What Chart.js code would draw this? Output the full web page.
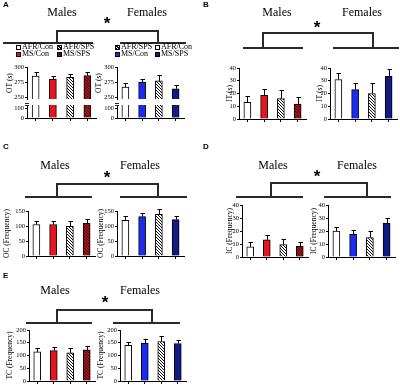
<!DOCTYPE html>
<html>
<head>
<meta charset="utf-8">
<script src="https://cdn.jsdelivr.net/npm/chart.js@4.4.1/dist/chart.umd.min.js"></script>
<style>
body { margin: 0; background: #fff; }
#fig { position: relative; width: 400px; height: 385px; overflow: hidden; font-family: "Liberation Serif", serif; color: #000; }
#fig canvas { position: absolute; }
.t { position: absolute; white-space: nowrap; line-height: 1; }
.grp { font-size: 12px; transform: translateX(-50%); }
.star { font-family: "Liberation Sans", sans-serif; font-weight: bold; font-size: 17px; transform: translateX(-50%); }
.letter { font-family: "Liberation Sans", Arial, sans-serif; font-weight: bold; font-size: 8px; }
.ln { position: absolute; background: #2a2a2a; }
.lg { position: absolute; font-size: 8px; line-height: 1; white-space: nowrap; }
.sw { position: absolute; width: 3px; height: 3px; border: 1px solid #000; }
</style>
</head>
<body>
<div id="fig"></div>
<script>
// bar order in every panel
const groups = ['AFR/Con', 'MS/Con', 'AFR/SPS', 'MS/SPS'];

// A: OT (s)
const otMales = [285, 280, 283, 286];
const otMalesErr = [6, 5, 6, 6];
const otFemales = [267, 275, 277, 264];
const otFemalesErr = [6, 5, 10, 6];
const otTicksTop = [250, 275, 300];
const otTicksBottom = [0, 100];

// B: IT (s)
const itMales = [13, 18.5, 16, 11.7];
const itMalesErr = [5, 5.2, 6.5, 5.7];
const itFemales = [31, 23, 20, 33.5];
const itFemalesErr = [5.4, 5, 8.3, 5.5];
const itTicks = [0, 10, 20, 30, 40];

// C: OC (Frequency)
const ocMales = [105, 105, 99, 110];
const ocMalesErr = [13, 11, 16, 14];
const ocFemales = [119, 131, 139, 121];
const ocFemalesErr = [13, 13, 19, 12];
const ocTicks = [0, 50, 100, 150];

// D: IC (Frequency)
const icMales = [7.8, 13.2, 9.5, 8.2];
const icMalesErr = [3.8, 3.4, 4.7, 3.5];
const icFemales = [19.9, 17.5, 15, 26];
const icFemalesErr = [3.4, 3.6, 5.1, 3.7];
const icTicks = [0, 10, 20, 30, 40];

// E: TC (Frequency)
const tcMales = [114, 119, 110, 122];
const tcMalesErr = [15, 13, 18, 14];
const tcFemales = [140, 149, 155, 147];
const tcFemalesErr = [14, 14, 22, 14];
const tcTicks = [0, 50, 100, 150, 200];

const fig = document.getElementById('fig');
const serif = 'Liberation Serif';

function hatch(bg, fg) {
    const c = document.createElement('canvas');
    c.width = c.height = 3;
    const g = c.getContext('2d');
    g.fillStyle = bg;
    g.fillRect(0, 0, 3, 3);
    g.fillStyle = fg;
    for (let i = 0; i < 3; i++) g.fillRect(i, i, 1, 1);
    return g.createPattern(c, 'repeat');
}

const maleFills = ['#ffffff', '#e8141e', hatch('#ffffff', '#111111'), hatch('#a3161b', '#4a0606')];
const femaleFills = ['#ffffff', '#1b2cf0', hatch('#ffffff', '#111111'), '#121a86'];

const errorBars = {
    id: 'errorBars',
    afterDatasetsDraw(chart) {
        const ds = chart.data.datasets[0];
        if (!ds.errors) return;
        const y = chart.scales.y;
        const ctx = chart.ctx;
        ctx.save();
        ctx.strokeStyle = '#000';
        ctx.lineWidth = 1;
        chart.getDatasetMeta(0).data.forEach((bar, i) => {
            const top = y.getPixelForValue(ds.data[i]);
            const hi = Math.round(y.getPixelForValue(ds.data[i] + ds.errors[i])) + 0.5;
            const x = Math.round(bar.x) + 0.5;
            ctx.beginPath();
            ctx.moveTo(x, top);
            ctx.lineTo(x, hi);
            ctx.moveTo(x - 2, hi);
            ctx.lineTo(x + 2.5, hi);
            ctx.stroke();
        });
        ctx.restore();
    }
};

function barChart(o) {
    const axisW = 28;
    const L = o.left - axisW;
    const T = o.top - 5;
    const xH = o.xAxis === false ? 0 : 4;
    const H = o.bottom - T + xH + 2;
    const W = o.right - L + 3;
    const cv = document.createElement('canvas');
    cv.width = W;
    cv.height = H;
    cv.style.left = L + 'px';
    cv.style.top = T + 'px';
    fig.appendChild(cv);
    new Chart(cv, {
        type: 'bar',
        data: {
            labels: groups,
            datasets: [{
                data: o.values,
                errors: o.errors,
                backgroundColor: o.fills,
                borderColor: '#000',
                borderWidth: 1,
                barThickness: 7
            }]
        },
        options: {
            responsive: false,
            animation: false,
            layout: { padding: { top: 5, right: 3, bottom: 2, left: 0 } },
            plugins: { legend: { display: false }, tooltip: { enabled: false } },
            scales: {
                x: {
                    display: o.xAxis !== false,
                    grid: { drawOnChartArea: false, offset: false, tickLength: 3, color: '#000' },
                    border: { color: '#000', width: 1 },
                    ticks: { display: false },
                    afterFit: s => { s.height = xH; }
                },
                y: {
                    min: o.min,
                    max: o.max,
                    afterBuildTicks: s => { s.ticks = o.ticks.map(v => ({ value: v })); },
                    grid: { drawOnChartArea: false, tickLength: 2, color: '#000' },
                    border: { color: '#000', width: 1 },
                    ticks: { font: { family: serif, size: 6.5 }, color: '#000', padding: 1 },
                    title: {
                        display: !!o.title,
                        text: o.title,
                        font: { family: serif, size: 7.5 },
                        color: '#000',
                        padding: { top: o.titleX - L - 4.5, bottom: 0 }
                    },
                    afterFit: s => { s.width = axisW; }
                }
            }
        },
        plugins: [errorBars]
    });
}

// panel A, broken axis: upper and lower parts
barChart({ left: 27, right: 96, top: 67, bottom: 102, min: 247, max: 300, ticks: otTicksTop, values: otMales, errors: otMalesErr, fills: maleFills, title: 'OT (s)', titleX: 10, xAxis: false });
barChart({ left: 27, right: 96, top: 105, bottom: 118, min: 0, max: 130, ticks: otTicksBottom, values: otMales, fills: maleFills, titleX: 10 });
barChart({ left: 117, right: 184, top: 67, bottom: 102, min: 247, max: 300, ticks: otTicksTop, values: otFemales, errors: otFemalesErr, fills: femaleFills, title: 'OT (s)', titleX: 99, xAxis: false });
barChart({ left: 117, right: 184, top: 105, bottom: 118, min: 0, max: 130, ticks: otTicksBottom, values: otFemales, fills: femaleFills, titleX: 99 });

// panel B
barChart({ left: 239, right: 306, top: 68, bottom: 119, min: 0, max: 40, ticks: itTicks, values: itMales, errors: itMalesErr, fills: maleFills, title: 'IT (s)', titleX: 230 });
barChart({ left: 330, right: 397, top: 68, bottom: 119, min: 0, max: 40, ticks: itTicks, values: itFemales, errors: itFemalesErr, fills: femaleFills, title: 'IT (s)', titleX: 320 });

// panel C
barChart({ left: 28, right: 95, top: 211, bottom: 256, min: 0, max: 150, ticks: ocTicks, values: ocMales, errors: ocMalesErr, fills: maleFills, title: 'OC (Frequency)', titleX: 7.5 });
barChart({ left: 117, right: 184, top: 211, bottom: 256, min: 0, max: 150, ticks: ocTicks, values: ocFemales, errors: ocFemalesErr, fills: femaleFills, title: 'OC (Frequency)', titleX: 101.5 });

// panel D
barChart({ left: 242, right: 308, top: 205, bottom: 257, min: 0, max: 40, ticks: icTicks, values: icMales, errors: icMalesErr, fills: maleFills, title: 'IC (Frequency)', titleX: 230 });
barChart({ left: 328, right: 395, top: 205, bottom: 257, min: 0, max: 40, ticks: icTicks, values: icFemales, errors: icFemalesErr, fills: femaleFills, title: 'IC (Frequency)', titleX: 314 });

// panel E
barChart({ left: 29, right: 95, top: 330, bottom: 381, min: 0, max: 200, ticks: tcTicks, values: tcMales, errors: tcMalesErr, fills: maleFills, title: 'TC (Frequency)', titleX: 10.5 });
barChart({ left: 120, right: 186, top: 330, bottom: 381, min: 0, max: 200, ticks: tcTicks, values: tcFemales, errors: tcFemalesErr, fills: femaleFills, title: 'TC (Frequency)', titleX: 101 });

// text labels
function text(cls, str, x, y) {
    const d = document.createElement('div');
    d.className = 't ' + cls;
    d.textContent = str;
    d.style.left = x + 'px';
    d.style.top = y + 'px';
    fig.appendChild(d);
}
[['A', 3, 1], ['B', 203, 1], ['C', 3, 143], ['D', 203, 143], ['E', 3, 272]].forEach(p => text('letter', ...p));
[[62, 147, 6], [277, 362, 6], [55, 140, 159], [273, 357, 159], [55, 140, 284]].forEach(([m, f, y]) => {
    text('grp', 'Males', m, y);
    text('grp', 'Females', f, y);
});
[[107, 15], [317, 19], [107, 169], [317, 168], [105, 294]].forEach(([x, y]) => text('star', '*', x, y));

// significance brackets
function box(x, y, w, h) {
    const d = document.createElement('div');
    d.className = 'ln';
    Object.assign(d.style, { left: x + 'px', top: y + 'px', width: w + 'px', height: h + 'px' });
    fig.appendChild(d);
}
function bracket(x1, x2, yTop, yLow, l1, l2, r1, r2) {
    box(x1 - 1, yTop - 1, x2 - x1 + 2, 2);
    box(x1 - 1, yTop, 2, yLow - yTop);
    box(x2 - 1, yTop, 2, yLow - yTop);
    box(l1, yLow - 1, l2 - l1, 2);
    box(r1, yLow - 1, r2 - r1, 2);
}
bracket(57, 158, 31, 43, 3, 93, 120, 186);
bracket(263, 373, 33, 48, 243, 303, 333, 399);
bracket(57, 158, 184, 197, 25, 92, 120, 187);
bracket(271, 367, 183, 197, 236, 303, 324, 391);
bracket(57, 152, 310, 323, 26, 92, 113, 180);

// axis break marks in panel A
[27, 117].forEach(x => {
    box(x - 2, 102.5, 4, 1);
    box(x - 2, 104.5, 4, 1);
});

// legends of panel A
function legendItem(fill, label, x, y) {
    const s = document.createElement('div');
    s.className = 'sw';
    s.style.left = x + 'px';
    s.style.top = (y - 2.5) + 'px';
    s.style.background = fill;
    fig.appendChild(s);
    const d = document.createElement('div');
    d.className = 'lg';
    d.textContent = label;
    d.style.left = (x + 6) + 'px';
    d.style.top = (y - 4) + 'px';
    fig.appendChild(d);
}
const cssHatch = 'repeating-linear-gradient(45deg, #111 0 1px, #fff 1px 2px)';
const cssDarkHatch = 'repeating-linear-gradient(45deg, #4a0606 0 1px, #a3161b 1px 2px)';
legendItem('#fff', groups[0], 16, 47);
legendItem(cssHatch, groups[2], 57, 47);
legendItem('#e8141e', groups[1], 16, 54);
legendItem(cssDarkHatch, groups[3], 57, 54);
legendItem(cssHatch, groups[2], 115, 47);
legendItem('#fff', groups[0], 155, 47);
legendItem('#1b2cf0', groups[1], 115, 54);
legendItem('#121a86', groups[3], 155, 54);
</script>
</body>
</html>
